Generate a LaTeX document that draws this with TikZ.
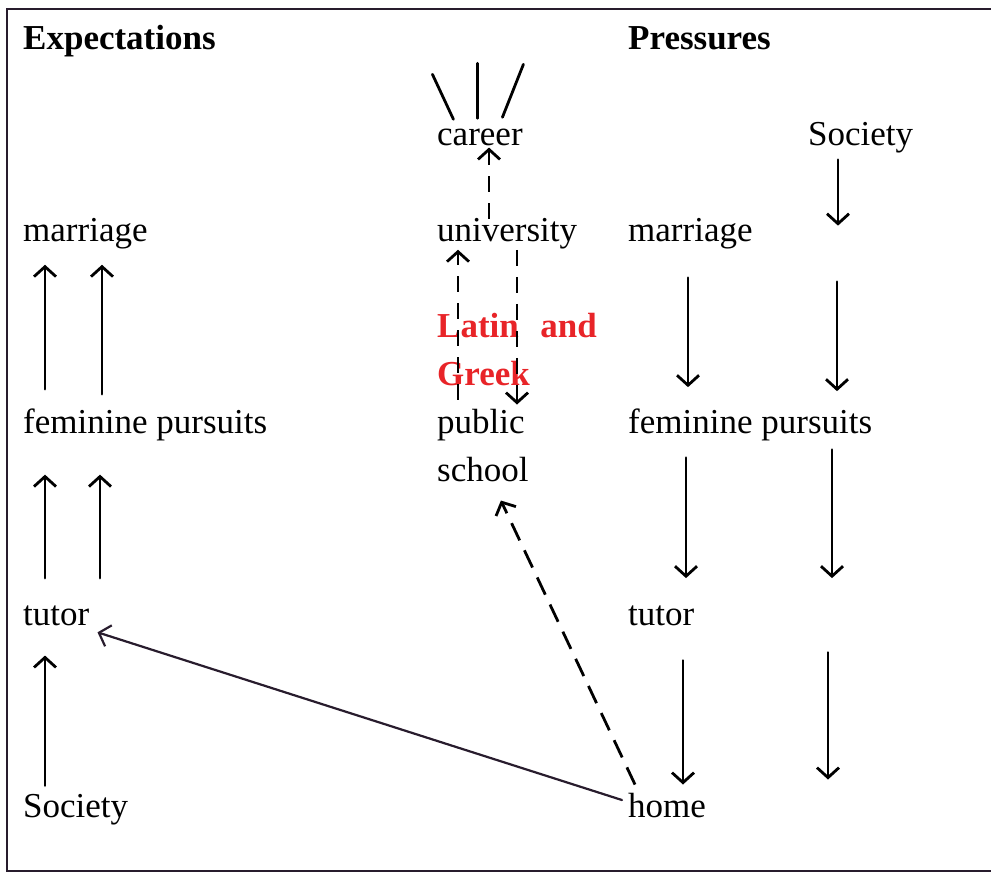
\documentclass[tikz,border=0pt]{standalone}
\usepackage{fontspec}
\setmainfont{Liberation Serif}
\usetikzlibrary{arrows.meta,calc}
\definecolor{inkred}{RGB}{232,36,40}
\definecolor{frameink}{RGB}{40,28,45}
\begin{document}
\begin{tikzpicture}[x=1bp,y=-1bp,
  lbl/.style={anchor=base west, inner sep=0pt, font=\fontsize{35bp}{42bp}\selectfont},
  head/.style={lbl, font=\fontsize{35bp}{42bp}\selectfont\bfseries},
  redlbl/.style={head, text=inkred},
  arr/.style={line width=2.8bp, line cap=round, -{Straight Barb[length=10bp,width=22bp]}},
  arrdash/.style={arr, line cap=butt, dash pattern=on 16bp off 11bp},
  stroke/.style={line width=2.8bp, line cap=round}]
\useasboundingbox (0,0) rectangle (991,873);

% frame, open on the right
\draw[frameink, line width=1.8bp] (991,9) -- (7,9) -- (7,871) -- (991,871);

% headings
\node[head] (hexp) at (23,49) {Expectations};
\node[head] (hpre) at (628,49) {Pressures};

% left column
\node[lbl] (lmar) at (23,241) {marriage};
\node[lbl] (lfem) at (23,433) {feminine pursuits};
\node[lbl] (ltut) at (23,625) {tutor};
\node[lbl] (lsoc) at (23,817) {Society};

% middle column
\node[lbl] (career) at (437,145) {career};
\node[lbl] (univ) at (437,241) {university};
\node[redlbl] (latin) at (437,337) {Latin};
\node[redlbl, anchor=base east] (and) at (597,337) {and};
\node[redlbl] (greek) at (437,385) {Greek};
\node[lbl] (pubs) at (437,433) {public};
\node[lbl] (school) at (437,481) {school};

% right column
\node[lbl] (rsoc) at (808,145) {Society};
\node[lbl] (rmar) at (628,241) {marriage};
\node[lbl] (rfem) at (628,433) {feminine pursuits};
\node[lbl] (rtut) at (628,625) {tutor};
\node[lbl] (home) at (628,817) {home};

% arrow columns
\coordinate (xl1) at (45,0);
\coordinate (xl2) at (102,0);
\coordinate (xl3) at (100,0);
\coordinate (xr1) at (688,0);
\coordinate (xr2) at (686,0);
\coordinate (xr3) at (683,0);
\coordinate (xs0) at (838,0);
\coordinate (xs1) at (837,0);
\coordinate (xs2) at (832,0);
\coordinate (xs3) at (828,0);
\coordinate (xc1) at (489,0);
\coordinate (xc2) at (458,0);
\coordinate (xc3) at (517,0);

% expectations: upward pairs
\draw[arr] ($(lfem.north -| xl1)+(0,-19)$) -- ($(lmar.south -| xl1)+(0,16)$);
\draw[arr] ($(lfem.north -| xl2)+(0,-14)$) -- ($(lmar.south -| xl2)+(0,16)$);
\draw[arr] ($(ltut.north -| xl1)+(0,-27)$) -- ($(lfem.south -| xl1)+(0,34)$);
\draw[arr] ($(ltut.north -| xl3)+(0,-27)$) -- ($(lfem.south -| xl3)+(0,34)$);
\draw[arr] ($(lsoc.north -| xl1)+(0,-8)$) -- ($(ltut.south -| xl1)+(0,30)$);

% pressures: downward pairs
\draw[arr] ($(rsoc.south -| xs0)+(0,7)$) -- ($(rmar.north -| xs0)+(0,8)$);
\draw[arr] ($(rmar.south -| xr1)+(0,29)$) -- ($(rfem.north -| xr1)+(0,-21)$);
\draw[arr] ($(rmar.south -| xs1)+(0,33)$) -- ($(rfem.north -| xs1)+(0,-17)$);
\draw[arr] ($(rfem.south -| xr2)+(0,17)$) -- ($(rtut.north -| xr2)+(0,-27)$);
\draw[arr] ($(rfem.south -| xs2)+(0,9)$) -- ($(rtut.north -| xs2)+(0,-27)$);
\draw[arr] ($(rtut.south -| xr3)+(0,35)$) -- ($(home.north -| xr3)+(0,-8)$);
\draw[arr] ($(rtut.south -| xs3)+(0,27)$) -- ($(home.north -| xs3)+(0,-13)$);

% strokes above career
\draw[stroke] ($(career.north)+(-47.5,-54)$) -- ($(career.north)+(-26.5,-9)$);
\draw[stroke] ($(career.north)+(-2.5,-65)$) -- ($(career.north)+(-2.5,-10)$);
\draw[stroke] ($(career.north)+(43.5,-64)$) -- ($(career.north)+(22.5,-11)$);

% dashed routes through school and university
\draw[arrdash] ($(univ.north -| xc1)+(0,1)$) -- ($(career.south -| xc1)+(0,2)$);
\draw[arrdash] ($(pubs.north -| xc2)+(0,-9)$) -- ($(univ.south -| xc2)+(0,1)$);
\draw[arrdash] ($(univ.south -| xc3)+(0,1)$) -- ($(pubs.north -| xc3)+(0,-4)$);
\draw[arrdash, dash pattern=on 19bp off 11bp] ($(home.north west)+(7,-8)$) -- ($(school.south)+(18,19)$);

% home back to tutor
\draw[arr, frameink, line width=2.2bp] ($(home.west)+(-6,-5)$) -- ($(ltut.east)+(8,17)$);
\end{tikzpicture}
\end{document}
